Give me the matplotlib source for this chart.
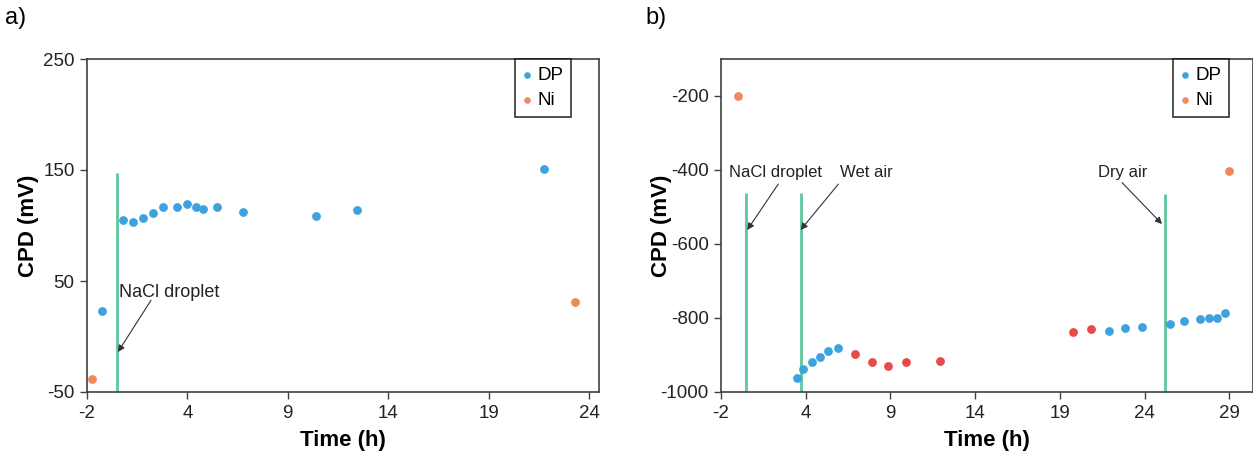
import numpy as np
import matplotlib
matplotlib.use("Agg")
from matplotlib import pyplot as plt
from matplotlib.ticker import FuncFormatter

plt.rcParams['font.family'] = ['Liberation Sans', 'DejaVu Sans']
plt.rcParams['axes.unicode_minus'] = False

# ---- panel a) ----
a_dp_t = [-0.75, 0.28, 0.77, 1.27, 1.8, 2.3, 2.96, 3.46, 3.92, 4.29, 4.95, 6.28, 9.92, 11.95, 21.28]
a_dp_cpd = [23, 105, 103, 107, 111, 117, 117, 119, 117, 115, 117, 112, 109, 114, 151]
a_ni_t = [-1.27, 22.78]
a_ni_cpd = [-38, 31]
a_events = [0.0]
a_event_labels = ["NaCl droplet"]

# ---- panel b) ----
b_dp_t = [3.0, 3.36, 3.86, 4.35, 4.84, 5.43, 21.38, 22.36, 23.35, 25.02, 25.8, 26.79, 27.28, 27.78, 28.27]
b_dp_cpd = [-962, -937, -920, -906, -890, -880, -834, -827, -823, -817, -809, -804, -801, -800, -786]
b_red_t = [6.41, 7.4, 8.38, 9.4, 11.44, 19.3, 20.34]
b_red_cpd = [-896, -918, -930, -919, -915, -838, -831]
b_ni_t = [-0.5, 28.5]
b_ni_cpd = [-200, -402]
b_events = [0.0, 3.2, 24.73]
b_event_labels = ["NaCl droplet", "Wet air", "Dry air"]

BLUE = '#3EA2DE'
ORANGE = '#F2875C'
RED = '#E84A4A'
GREEN = '#5CC99A'
AXC = '#404040'


def excel_round(v, pos=None):
    # excel rounds half away from zero
    return str(int(np.sign(v) * np.floor(abs(v) + 0.5)))


W, H = 1253, 457
fig = plt.figure(figsize=(W / 100, H / 100), dpi=100)
ax1 = fig.add_axes([87 / W, 1 - 392 / H, 512 / W, 333 / H])
ax2 = fig.add_axes([721 / W, 1 - 392 / H, 532 / W, 333 / H])

for ax in (ax1, ax2):
    for s in ax.spines.values():
        s.set_color(AXC)
        s.set_linewidth(1.2)
    ax.tick_params(direction='out', length=5, width=1, color=AXC,
                   labelsize=13.5, labelcolor='#222222', pad=4)
    ax.xaxis.set_major_formatter(FuncFormatter(excel_round))
    ax.set_xlabel('Time (h)', fontsize=16, fontweight='bold', va='center')
    ax.set_ylabel('CPD (mV)', fontsize=16, fontweight='bold', va='center')
    ax.xaxis.set_label_coords(0.5, -0.145)

arrow_kw = dict(arrowstyle='-|>', color='#333333', lw=0.8, mutation_scale=10,
                shrinkA=0, shrinkB=0)

# panel a
ax1.set_xlim(-1.5, 24)
ax1.set_ylim(-50, 250)
ax1.set_xticks(np.arange(-1.5, 24, 5))
ax1.set_yticks([-50, 50, 150, 250])
ax1.vlines(a_events, -50, 147, color=GREEN, lw=2, zorder=1)
ax1.scatter(a_dp_t, a_dp_cpd, s=40, color=BLUE, linewidths=0, label='DP', zorder=3)
ax1.scatter(a_ni_t, a_ni_cpd, s=40, color=ORANGE, linewidths=0, label='Ni', zorder=3)
ax1.text(0.09, 40, a_event_labels[0], fontsize=13, color='#222222', ha='left', va='center')
ax1.annotate('', xy=(0.04, -14), xytext=(1.69, 32.7), arrowprops=arrow_kw)
ax1.yaxis.set_label_coords(-0.115, 0.5)

# panel b
ax2.set_xlim(-1.5, 29.9)
ax2.set_ylim(-1000, -100)
ax2.set_xticks(np.arange(-1.5, 29, 5))
ax2.set_yticks([-1000, -800, -600, -400, -200])
ax2.vlines(b_events[:2], -1000, -461, color=GREEN, lw=2, zorder=1)
ax2.vlines(b_events[2:], -1000, -464, color=GREEN, lw=2, zorder=1)
ax2.scatter(b_dp_t, b_dp_cpd, s=40, color=BLUE, linewidths=0, label='DP', zorder=3)
ax2.scatter(b_red_t, b_red_cpd, s=40, color=RED, linewidths=0, zorder=3)
ax2.scatter(b_ni_t, b_ni_cpd, s=40, color=ORANGE, linewidths=0, label='Ni', zorder=3)

# text anchor, arrow tail, arrow head
b_text_xy = [(-1.03, -407), (5.53, -407), (20.77, -407)]
b_tail_xy = [(1.88, -438), (5.43, -438), (22.17, -434)]
b_head_xy = [(0.05, -562), (3.2, -562), (24.53, -546)]
for lab, txy, tail, head in zip(b_event_labels, b_text_xy, b_tail_xy, b_head_xy):
    ax2.text(txy[0], txy[1], lab, fontsize=12, color='#222222', ha='left', va='center')
    ax2.annotate('', xy=head, xytext=tail, arrowprops=arrow_kw)
ax2.yaxis.set_label_coords(-0.111, 0.5)

for ax, xr in ((ax1, 0.945), (ax2, 0.955)):
    leg = ax.legend(loc='upper right', bbox_to_anchor=(xr, 1.0), fontsize=13.5,
                    frameon=True, fancybox=False, edgecolor='black',
                    handlelength=0.5, handletextpad=0.3, borderpad=0.4,
                    labelspacing=0.45, markerscale=0.75, borderaxespad=0)
    leg.get_frame().set_linewidth(1.2)

fig.text(5 / W, 1 - 18 / H, 'a)', fontsize=17, va='center', ha='left')
fig.text(645 / W, 1 - 18 / H, 'b)', fontsize=17, va='center', ha='left')

fig.savefig('out.png', dpi=100)
